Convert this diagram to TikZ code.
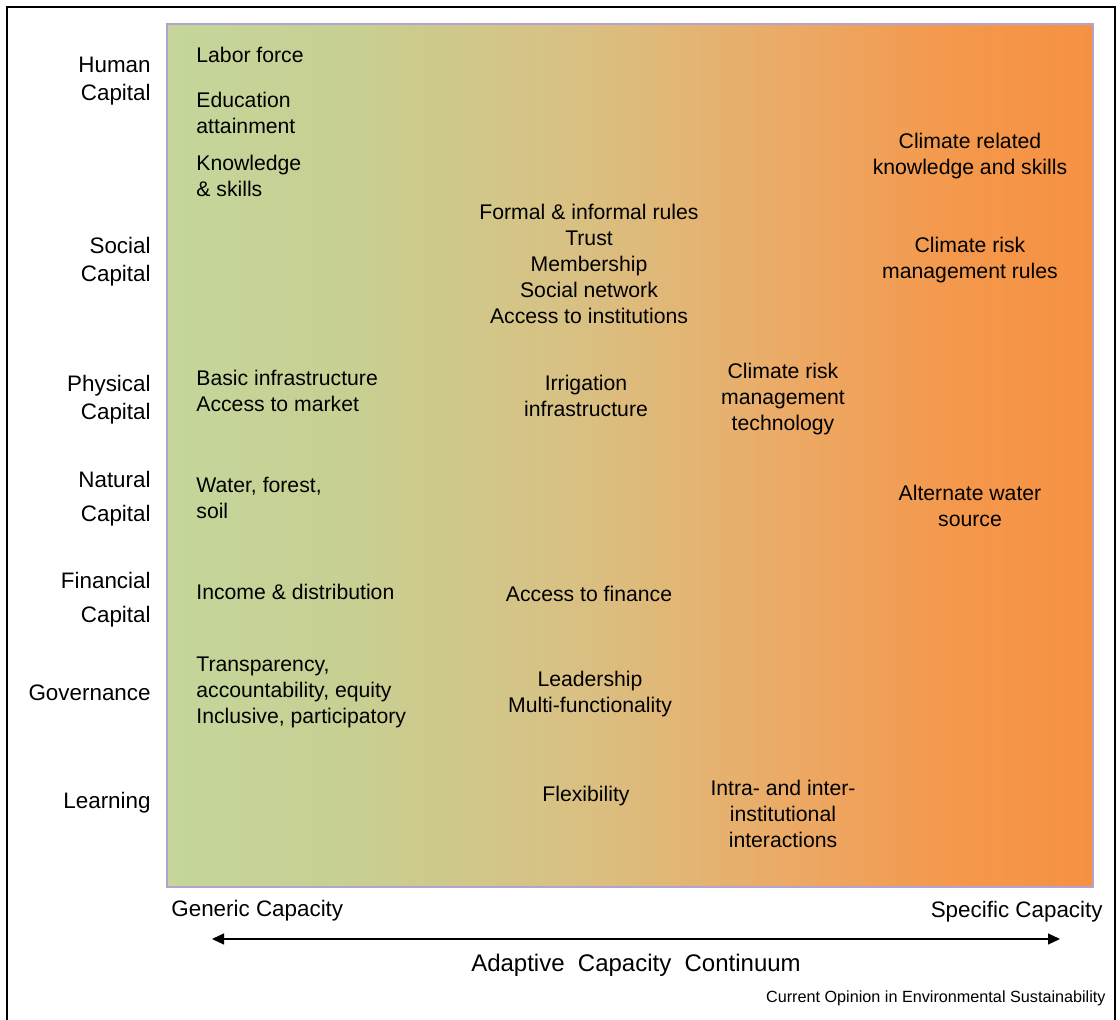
\documentclass[tikz,border=0pt]{standalone}
\usepackage{fontspec}
\setmainfont{Liberation Sans}
\usepackage{xcolor}
\usetikzlibrary{arrows.meta, positioning, calc}

\definecolor{genericgreen}{RGB}{196,214,155}
\definecolor{greenish}{RGB}{200,207,146}
\definecolor{midtan}{RGB}{217,192,130}
\definecolor{lightorange}{RGB}{234,172,105}
\definecolor{deeporange}{RGB}{244,152,76}
\definecolor{specorange}{RGB}{246,145,66}
\definecolor{panelborder}{RGB}{178,164,206}

\pgfdeclarehorizontalshading{continuum}{100bp}{color(0bp)=(genericgreen); color(25bp)=(genericgreen);
    color(35bp)=(greenish); color(47.5bp)=(midtan); color(57.5bp)=(lightorange);
    color(67.5bp)=(deeporange); color(75bp)=(specorange); color(100bp)=(specorange)}

\begin{document}
\begin{tikzpicture}[x=0.5pt, y=-0.5pt,
    factor/.style={anchor=east, align=right, font=\fontsize{11.2}{14}\selectfont, inner sep=0pt},
    item/.style={anchor=west, align=left, font=\fontsize{10.6}{13}\selectfont, inner sep=0pt},
    citem/.style={align=center, font=\fontsize{10.6}{13}\selectfont, inner sep=0pt},
    axislabel/.style={font=\fontsize{11.2}{13}\selectfont, inner sep=0pt},
    arrow/.style={{Triangle[length=6pt,width=5.5pt]}-{Triangle[length=6pt,width=5.5pt]}, line width=0.6pt}
]
    \useasboundingbox (0,0) rectangle (1120,1020);
    % outer frame, open at the bottom
    \draw[line width=0.7pt] (7,1020) -- (7,7) -- (1115,7) -- (1115,1020);

    % continuum panel
    \shade[shading=continuum] (167,24) rectangle (1093,887);
    \draw[panelborder, line width=0.8pt] (167,24) rectangle (1093,887);

    % capitals on the left
    \node[factor] at (151,81) (human) {Human\\Capital};
    \node[factor] at (151,262) (social) {Social\\Capital};
    \node[factor] at (151,400) (physical) {Physical\\Capital};
    \node[factor] at (151,499) (natural) {Natural\\[3pt]Capital};
    \node[factor] at (151,600) (financial) {Financial\\[3pt]Capital};
    \node[factor] at (151,693) (governance) {Governance};
    \node[factor] at (151,803) (learning) {Learning};

    % generic column
    \node[item] at (196,55) (labor) {Labor force};
    \node[item] at (196,113) (education) {Education\\attainment};
    \node[item] at (196,176) (knowledge) {Knowledge\\\& skills};
    \node[item] at (196,391) (infra) {Basic infrastructure\\Access to market};
    \node[item] at (196,498) (water) {Water, forest,\\soil};
    \node[item] at (196,592) (income) {Income \& distribution};
    \node[item] at (196,692) (transparency) {Transparency,\\accountability, equity\\Inclusive, participatory};

    % middle column
    \node[citem] at (589,264) (rules) {Formal \& informal rules\\Trust\\Membership\\Social network\\Access to institutions};
    \node[citem] at (586,396) (irrigation) {Irrigation\\infrastructure};
    \node[citem] at (589,594) (finance) {Access to finance};
    \node[citem] at (590,694) (leadership) {Leadership\\Multi-functionality};
    \node[citem] at (586,796) (flexibility) {Flexibility};

    % third column
    \node[citem] at (783,399) (riskTech) {Climate risk\\management\\technology};
    \node[citem] at (783,814) (interactions) {Intra- and inter-\\institutional\\interactions};

    % specific column
    \node[citem] at (970,156) (climateKnow) {Climate related\\knowledge and skills};
    \node[citem] at (970,260) (riskRules) {Climate risk\\management rules};
    \node[citem] at (970,506) (altWater) {Alternate water\\source};

    % continuum axis
    \node[axislabel, anchor=west] at (171,911) (generic) {Generic Capacity};
    \node[axislabel, anchor=east] at (1103,912) (specific) {Specific Capacity};
    \coordinate (leftEnd) at (212,939);
    \coordinate (rightEnd) at (1060,939);
    \draw[arrow] (leftEnd) -- (rightEnd);
    \node[font=\fontsize{12}{13}\selectfont, inner sep=0pt] at (636,965) (continuum) {Adaptive~~Capacity~~Continuum};
    \node[font=\fontsize{8.1}{9}\selectfont, anchor=east, inner sep=0pt] at (1106,998) (source) {Current Opinion in Environmental Sustainability};
\end{tikzpicture}
\end{document}
